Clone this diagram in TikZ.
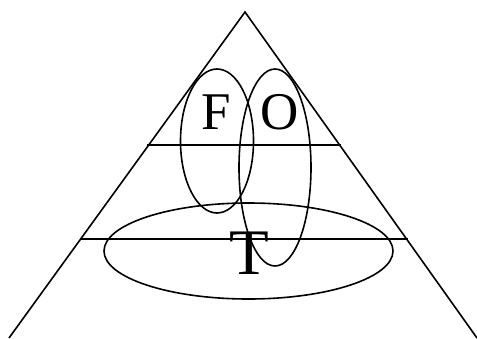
\documentclass[tikz,border=0pt]{standalone}
\usepackage{fontspec}
\setmainfont{Liberation Serif}
\begin{document}
\begin{tikzpicture}[x=1pt,y=-1pt,
  stroke/.style={line width=1.6pt,black},
  bigletter/.style={inner sep=0pt,anchor=base,font=\fontsize{53}{53}\selectfont},
  hugeletter/.style={inner sep=0pt,anchor=base,font=\fontsize{65}{65}\selectfont}]
\useasboundingbox (0,0) rectangle (477,338);
% triangle sides
\coordinate (apex) at (245,12);
\coordinate (bl) at (9,338);
\coordinate (br) at (477,338);
\draw[stroke] (bl) -- (apex) -- (br);
% horizontal lines
\draw[stroke] (147,145) -- (341,145);
\draw[stroke] (80,239) -- (408,239);
% ellipses
\draw[stroke] (217,141) ellipse [x radius=36.5, y radius=72];
\draw[stroke] (275,167.5) ellipse [x radius=36, y radius=98.5];
\draw[stroke] (248.5,251) ellipse [x radius=144.5, y radius=48];
% letters
\node[bigletter] (F) at (216,129) {F};
\node[bigletter] (O) at (279.5,129) {O};
\node[hugeletter] (T) at (249,274) {T};
\end{tikzpicture}
\end{document}
